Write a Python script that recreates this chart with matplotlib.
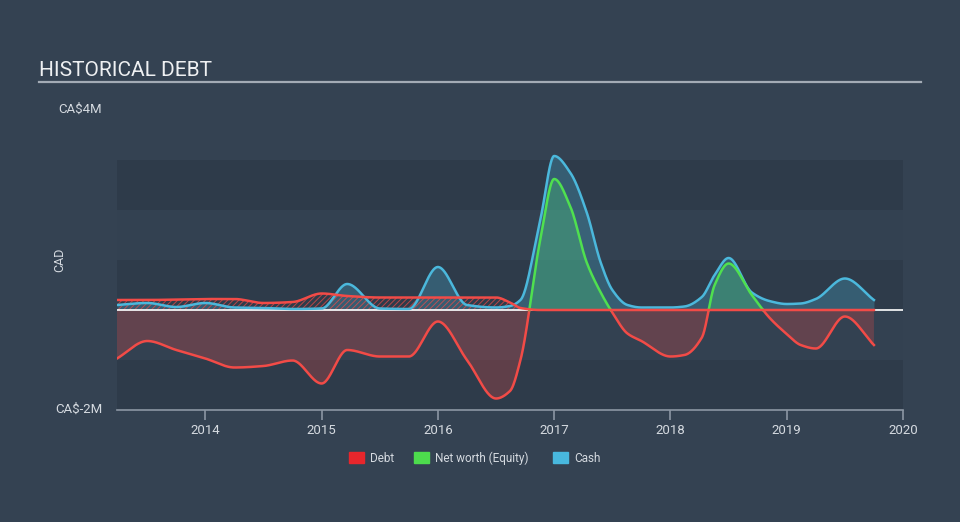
import numpy as np
import matplotlib
matplotlib.use('Agg')
import matplotlib.pyplot as plt
from matplotlib.patches import Rectangle

plt.rcParams['font.family'] = ['Roboto', 'DejaVu Sans']
plt.rcParams['hatch.linewidth'] = 0.7

# values in CA$ millions
dates = [2013.24, 2013.5, 2013.75, 2014.0, 2014.25, 2014.5, 2014.75, 2015.0,
         2015.22, 2015.5, 2015.75, 2016.0, 2016.25, 2016.5, 2016.62, 2016.71,
         2016.88, 2017.0, 2017.14, 2017.28, 2017.4, 2017.5, 2017.63, 2017.75,
         2018.0, 2018.12, 2018.27, 2018.38, 2018.5, 2018.7, 2018.85, 2019.0,
         2019.12, 2019.25, 2019.5, 2019.75]
debt = [0.2, 0.2, 0.21, 0.22, 0.22, 0.14, 0.16, 0.33,
        0.28, 0.25, 0.25, 0.25, 0.25, 0.25, 0.15, 0.04,
        0, 0, 0, 0, 0, 0, 0, 0,
        0, 0, 0, 0, 0, 0, 0, 0,
        0, 0, 0, 0]
net_worth = [-0.97, -0.62, -0.8, -0.97, -1.15, -1.12, -1.01, -1.47,
             -0.8, -0.93, -0.93, -0.23, -1.0, -1.77, -1.62, -1.0,
             1.4, 2.62, 2.06, 0.95, 0.35, -0.05, -0.47, -0.62,
             -0.93, -0.9, -0.55, 0.5, 0.93, 0.3, -0.15, -0.48,
             -0.7, -0.77, -0.13, -0.7]
cash = [0.1, 0.14, 0.06, 0.14, 0.05, 0.04, 0.02, 0.03,
        0.52, 0.03, 0.02, 0.86, 0.1, 0.05, 0.08, 0.2,
        1.8, 3.08, 2.74, 1.95, 0.95, 0.4, 0.1, 0.05,
        0.05, 0.07, 0.26, 0.7, 1.04, 0.35, 0.18, 0.12,
        0.13, 0.22, 0.63, 0.2]
year_ticks = [2014, 2015, 2016, 2017, 2018, 2019, 2020]

BG = '#344252'
BAND_DARK = '#2e3b4a'
BAND_LIGHT = '#334151'
RED = '#f24b47'
GREEN = '#4fe04f'
BLUE = '#4bb8dc'


def smooth(x, y, n=1500):
    # monotone cubic (Fritsch-Carlson) curve through the read points, for drawing
    x = np.asarray(x, float)
    y = np.asarray(y, float)
    h = np.diff(x)
    d = np.diff(y) / h
    m = np.zeros_like(y)
    m[0], m[-1] = d[0], d[-1]
    for i in range(1, len(y) - 1):
        if d[i - 1] * d[i] > 0:
            w1 = 2 * h[i] + h[i - 1]
            w2 = h[i] + 2 * h[i - 1]
            m[i] = (w1 + w2) / (w1 / d[i - 1] + w2 / d[i])
    xs = np.linspace(x[0], x[-1], n)
    k = np.clip(np.searchsorted(x, xs) - 1, 0, len(x) - 2)
    t = (xs - x[k]) / h[k]
    h00 = 2 * t**3 - 3 * t**2 + 1
    h10 = t**3 - 2 * t**2 + t
    h01 = -2 * t**3 + 3 * t**2
    h11 = t**3 - t**2
    ys = h00 * y[k] + h10 * h[k] * m[k] + h01 * y[k + 1] + h11 * h[k] * m[k + 1]
    return xs, ys


def add_zero_crossings(xs, ys):
    out_x, out_y = [xs[0]], [ys[0]]
    for i in range(1, len(xs)):
        if ys[i - 1] * ys[i] < 0:
            xz = xs[i - 1] - ys[i - 1] * (xs[i] - xs[i - 1]) / (ys[i] - ys[i - 1])
            out_x.append(xz)
            out_y.append(0.0)
        out_x.append(xs[i])
        out_y.append(ys[i])
    return np.array(out_x), np.array(out_y)


fig = plt.figure(figsize=(9.6, 5.22), dpi=100, facecolor=BG)
ax = fig.add_axes([117 / 960, 1 - 410 / 522, 786 / 960, 300 / 522])
ax.set_facecolor(BG)
ax.set_xlim(2013.24, 2020.0)
ax.set_ylim(-2, 4)

for i, lo in enumerate(range(-2, 3)):
    ax.axhspan(lo, lo + 1, color=BAND_DARK if i % 2 == 0 else BAND_LIGHT, lw=0, zorder=0)

nx, ny = add_zero_crossings(*smooth(dates, net_worth))
cx, cy = smooth(dates, cash)
dx, dy = smooth(dates, debt)
dy = np.clip(dy, 0, None)

ax.fill_between(nx, ny, 0, where=ny <= 0, color=RED, alpha=0.25, lw=0, zorder=1)
ax.fill_between(nx, ny, 0, where=ny >= 0, color=GREEN, alpha=0.3, lw=0, zorder=1)
ax.fill_between(cx, cy, 0, color=BLUE, alpha=0.28, lw=0, zorder=2)
ax.fill_between(dx, dy, 0, facecolor='none', edgecolor=RED, hatch='//////', lw=0,
                alpha=0.7, zorder=2)

ax.axhline(0, color='white', lw=1.2, zorder=3)

ax.plot(cx, cy, color=BLUE, lw=1.8, zorder=4)
ax.plot(nx, np.where(ny <= 0, ny, np.nan), color=RED, lw=1.8, zorder=4)
ax.plot(nx, np.where(ny >= 0, ny, np.nan), color=GREEN, lw=1.8, zorder=4)
ax.plot(dx, dy, color=RED, lw=1.8, zorder=5)

for s in ['top', 'right', 'left']:
    ax.spines[s].set_visible(False)
ax.spines['bottom'].set_color('#8c97a4')
ax.spines['bottom'].set_linewidth(1.2)
ax.set_yticks([])
ax.set_xticks(year_ticks)
ax.set_xticklabels([str(y) for y in year_ticks])
ax.tick_params(axis='x', direction='out', length=7, width=1.2, color='#8c97a4',
               labelcolor='#d5dae0', labelsize=9.5, pad=3)

# title and rule
fig.text(39 / 960, 1 - 76 / 522, 'HISTORICAL DEBT', color='#eef0f2', fontsize=15,
         ha='left', va='baseline')
fig.add_artist(plt.Line2D([39 / 960, 921 / 960], [1 - 82 / 522, 1 - 82 / 522],
                          color='#a3abb5', lw=1.6, transform=fig.transFigure))

fig.text(102 / 960, 1 - 109 / 522, 'CA$4M', color='#d5dae0', fontsize=9.5, ha='right', va='center')
fig.text(102 / 960, 1 - 409 / 522, 'CA$-2M', color='#d5dae0', fontsize=9.5, ha='right', va='center')
fig.text(60 / 960, 1 - 260 / 522, 'CAD', color='#d5dae0', fontsize=9, rotation=90,
         ha='center', va='center')

# legend
legend_items = [('Debt', '#e8262c', 349), ('Net worth (Equity)', '#4ddc4d', 414), ('Cash', '#48b8de', 553)]
for label, color, x0 in legend_items:
    fig.add_artist(Rectangle((x0 / 960, 1 - 463 / 522), 15 / 960, 11 / 522,
                             color=color, transform=fig.transFigure))
    fig.text((x0 + 21) / 960, 1 - 458 / 522, label, color='#d5dae0', fontsize=8.5,
             ha='left', va='center')

fig.savefig('out.png', dpi=100, facecolor=BG)
